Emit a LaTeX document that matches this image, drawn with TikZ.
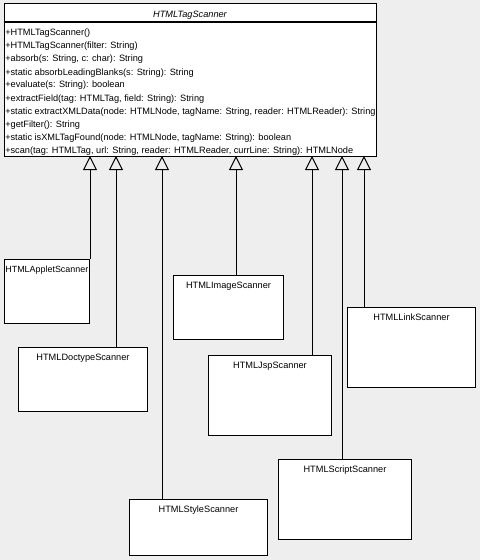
\documentclass[tikz,border=0pt]{standalone}
\usepackage{fontspec}
\setmainfont{Liberation Sans}
\usetikzlibrary{arrows.meta,fit}
\definecolor{canvas}{RGB}{238,238,238}
\begin{document}
% one unit = one screen pixel, y grows downwards
\begin{tikzpicture}[x=0.75pt,y=-0.75pt,
  every node/.style={font=\fontsize{6.9}{9.75}\selectfont},
  classbox/.style={draw=black,fill=white,line width=0.75pt,inner sep=0pt},
  member/.style={anchor=base west,inner sep=0pt},
  classname/.style={anchor=base,inner sep=0pt},
  extends/.style={draw=black,line width=0.75pt,
    -{Triangle[open,width=10.5pt,length=10.5pt,line width=0.75pt]}}]
\fill[canvas] (0,0) rectangle (480,560);
\useasboundingbox (0,0) rectangle (480,560);

% abstract base class
\node[classbox,fit={(4,4)(376,156)}] (main) {};
\coordinate (hdr) at (0,21.7);
\draw[line width=1.5pt] (main.west |- hdr) -- (main.east |- hdr);
\node[classname,font=\fontsize{6.9}{9.75}\selectfont\itshape] (title) at (190,17.5) {HTMLTagScanner};
\node[member] (m1)  at (5,36)  {+HTMLTagScanner()};
\node[member] (m2)  at (5,49)  {+HTMLTagScanner(filter: String)};
\node[member] (m3)  at (5,62)  {+absorb(s: String, c: char): String};
\node[member] (m4)  at (5,75)  {+static absorbLeadingBlanks(s: String): String};
\node[member] (m5)  at (5,88)  {+evaluate(s: String): boolean};
\node[member] (m6)  at (5,101) {+extractField(tag: HTMLTag, field: String): String};
\node[member] (m7)  at (5,114) {+static extractXMLData(node: HTMLNode, tagName: String, reader: HTMLReader): String};
\node[member] (m8)  at (5,127) {+getFilter(): String};
\node[member] (m9)  at (5,140) {+static isXMLTagFound(node: HTMLNode, tagName: String): boolean};
\node[member] (m10) at (5,153) {+scan(tag: HTMLTag, url: String, reader: HTMLReader, currLine: String): HTMLNode};

% concrete scanners
\node[classbox,fit={(4,259)(89.7,323.3)}]       (applet)  {};
\node[classbox,fit={(173.3,275.3)(283.7,339.3)}] (image)   {};
\node[classbox,fit={(347.3,307.3)(475.7,387.3)}] (link)    {};
\node[classbox,fit={(18.3,347.3)(147.7,411.3)}]  (doctype) {};
\node[classbox,fit={(208.3,355.3)(331.7,435.3)}] (jsp)     {};
\node[classbox,fit={(278.3,459.3)(411.7,539.3)}] (script)  {};
\node[classbox,fit={(129.3,499.3)(267.7,555.3)}] (style)   {};

\node[classname,font=\fontsize{6.7}{9.75}\selectfont] (appletname) at ([yshift=-10.5pt]applet.north) {HTMLAppletScanner};
\node[classname] (imagename)   at ([yshift=-10.5pt]image.north)   {HTMLImageScanner};
\node[classname] (linkname)    at ([yshift=-10.5pt]link.north)    {HTMLLinkScanner};
\node[classname] (doctypename) at ([yshift=-10.5pt]doctype.north) {HTMLDoctypeScanner};
\node[classname] (jspname)     at ([yshift=-10.5pt]jsp.north)     {HTMLJspScanner};
\node[classname] (scriptname)  at ([yshift=-10.5pt]script.north)  {HTMLScriptScanner};
\node[classname] (stylename)   at ([yshift=-10.5pt]style.north)   {HTMLStyleScanner};

% generalisation arrows, each ending on the base class
\coordinate (g1) at (90,156);
\coordinate (g2) at (116,156);
\coordinate (g3) at (162,156);
\coordinate (g4) at (236,156);
\coordinate (g5) at (312,156);
\coordinate (g6) at (342,156);
\coordinate (g7) at (364,156);
\draw[extends] (applet.north -| g1)  -- (g1);
\draw[extends] (doctype.north -| g2) -- (g2);
\draw[extends] (style.north -| g3)   -- (g3);
\draw[extends] (image.north -| g4)   -- (g4);
\draw[extends] (jsp.north -| g5)     -- (g5);
\draw[extends] (script.north -| g6)  -- (g6);
\draw[extends] (link.north -| g7)    -- (g7);
\end{tikzpicture}
\end{document}
